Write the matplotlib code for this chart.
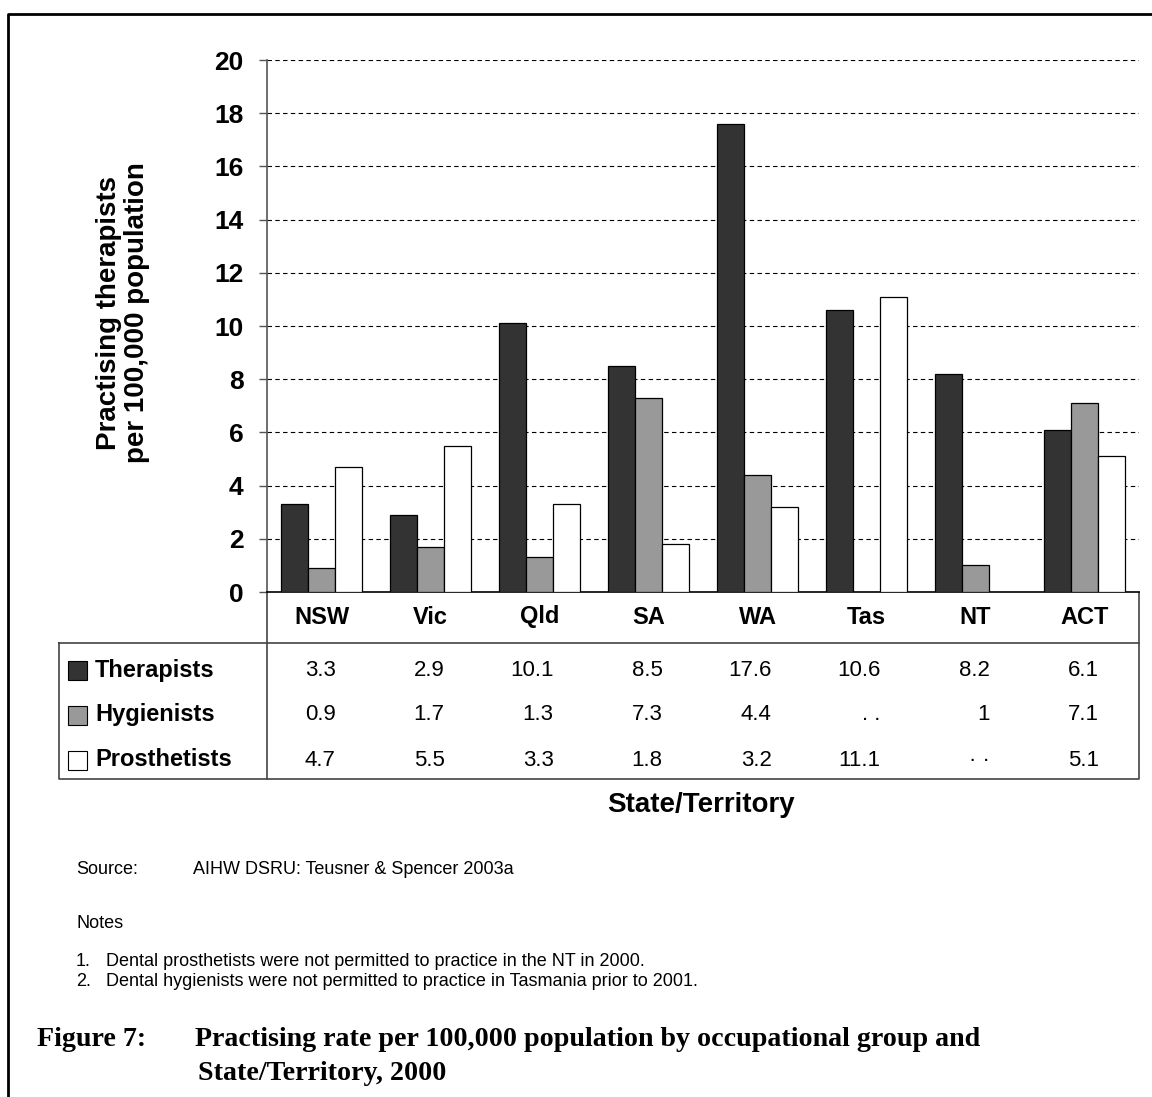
import matplotlib
matplotlib.use("Agg")
from matplotlib import pyplot as plt
from matplotlib.patches import Rectangle
from matplotlib.transforms import blended_transform_factory
import numpy as np

plt.rcParams['font.family'] = ['Liberation Sans', 'DejaVu Sans']

# data
states = ['NSW', 'Vic', 'Qld', 'SA', 'WA', 'Tas', 'NT', 'ACT']
therapists = [3.3, 2.9, 10.1, 8.5, 17.6, 10.6, 8.2, 6.1]
hygienists = [0.9, 1.7, 1.3, 7.3, 4.4, None, 1, 7.1]
prosthetists = [4.7, 5.5, 3.3, 1.8, 3.2, 11.1, None, 5.1]
series_names = ['Therapists', 'Hygienists', 'Prosthetists']
series_colors = ['#333333', '#999999', '#ffffff']
missing_marks = ['. .', '\u00b7 \u00b7']  # Tas hygienists, NT prosthetists
yticks = [0, 2, 4, 6, 8, 10, 12, 14, 16, 18, 20]

W, H = 1152, 1097
fig = plt.figure(figsize=(W / 100, H / 100), dpi=100)

# overlay in pixel coords for frame, table and notes
ov = fig.add_axes([0, 0, 1, 1])
ov.set_xlim(0, W)
ov.set_ylim(H, 0)
ov.axis('off')

# main chart axes
x0, x1, ytop, ybot = 267, 1139, 60, 592
ax = fig.add_axes([x0 / W, 1 - ybot / H, (x1 - x0) / W, (ybot - ytop) / H])
x = np.arange(len(states))
bw = 0.248
all_series = [therapists, hygienists, prosthetists]
for i, (vals, col) in enumerate(zip(all_series, series_colors)):
    v = [np.nan if a is None else a for a in vals]
    ax.bar(x + (i - 1) * bw, v, width=bw, color=col, edgecolor='black', linewidth=0.9, zorder=3)

ax.set_xlim(-0.5, len(states) - 0.5)
ax.set_ylim(0, 20)
ax.set_yticks(yticks)
ax.set_yticklabels([str(t) for t in yticks], fontsize=19, fontweight='bold')
ax.tick_params(axis='y', length=6, width=1, pad=11, color='#555555')
ax.set_xticks([])
for t in yticks[1:]:
    ax.axhline(t, color='black', linestyle=(0, (4, 3)), linewidth=0.8, zorder=1)
for s in ['top', 'right']:
    ax.spines[s].set_visible(False)
ax.spines['left'].set_color('#555555')
ax.spines['left'].set_linewidth(1.2)
ax.spines['bottom'].set_color('black')
ax.spines['bottom'].set_linewidth(1.2)

ov.text(123, 313, 'Practising therapists\nper 100,000 population', rotation=90,
        ha='center', va='center', fontsize=20, fontweight='bold',
        multialignment='center', linespacing=1.1)

# table below the chart
tr = blended_transform_factory(ax.transData, ov.transData)
lc = '#444444'
ov.plot([59, 1139, 1139, 59, 59], [643, 643, 779, 779, 643], color=lc, lw=1.2)
ov.plot([267, 267], [592, 779], color=lc, lw=1.2)
ov.plot([1139, 1139], [592, 643], color=lc, lw=1.2)

for i, st in enumerate(states):
    ov.text(i, 617, st, transform=tr, ha='center', va='center', fontsize=17, fontweight='bold')

row_y = [670, 715, 760]
miss = iter(missing_marks)
for r, (name, col, vals) in enumerate(zip(series_names, series_colors, all_series)):
    ov.add_patch(Rectangle((68, row_y[r] - 9.5), 19, 19, facecolor=col, edgecolor='black', lw=0.8))
    ov.text(95, row_y[r], name, ha='left', va='center', fontsize=17, fontweight='bold')
    for i, v in enumerate(vals):
        lab = next(miss) if v is None else f'{v:g}'
        ov.text(i + 0.13, row_y[r], lab, transform=tr, ha='right', va='center', fontsize=16)

ov.text(701, 805, 'State/Territory', ha='center', va='center', fontsize=20, fontweight='bold')

# source and notes
fs = 13
ov.text(76, 870, 'Source:', ha='left', va='center', fontsize=fs)
ov.text(193, 870, 'AIHW DSRU: Teusner & Spencer 2003a', ha='left', va='center', fontsize=fs)
ov.text(76, 923, 'Notes', ha='left', va='center', fontsize=fs)
ov.text(76, 962, '1.', ha='left', va='center', fontsize=fs)
ov.text(106, 962, 'Dental prosthetists were not permitted to practice in the NT in 2000.',
        ha='left', va='center', fontsize=fs)
ov.text(76, 981, '2.', ha='left', va='center', fontsize=fs)
ov.text(106, 981, 'Dental hygienists were not permitted to practice in Tasmania prior to 2001.',
        ha='left', va='center', fontsize=fs)

cap = dict(ha='left', va='center', fontsize=20.2, fontweight='bold', family=['Liberation Serif', 'DejaVu Serif'])
ov.text(37, 1040, 'Figure 7:', **cap)
ov.text(195, 1040, 'Practising rate per 100,000 population by occupational group and', **cap)
ov.text(198, 1073, 'State/Territory, 2000', **cap)

# page frame
ov.plot([8, 8, W + 5], [H + 5, 14, 14], color='black', lw=2, clip_on=False)

fig.savefig('out.png', dpi=100)
